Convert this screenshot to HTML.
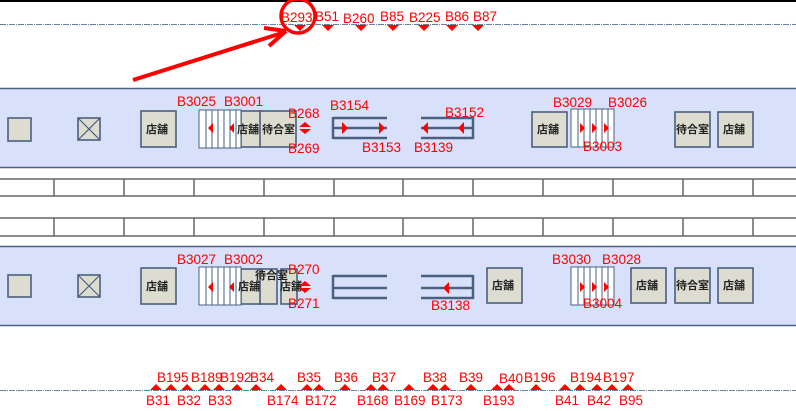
<!DOCTYPE html>
<html><head><meta charset="utf-8"><style>
html,body{margin:0;padding:0;background:#fff;width:796px;height:411px;overflow:hidden}
svg text{font-family:"Liberation Sans","Noto Sans CJK JP",sans-serif}
.r{fill:#ff0000;font-size:13.5px}
.j{fill:#222;font-size:11px;font-weight:bold}
.bx{fill:#dcdcd0;stroke:#4a6080;stroke-width:1.6}
</style></head><body>
<svg width="796" height="411" viewBox="0 0 796 411" xmlns="http://www.w3.org/2000/svg">
<rect x="0" y="0" width="796" height="2" fill="#000"/>
<line x1="0" y1="24.5" x2="796" y2="24.5" stroke="#6a80a0" stroke-width="1" stroke-dasharray="6,1,1,1"/>
<line x1="0" y1="390.5" x2="796" y2="390.5" stroke="#6a80a0" stroke-width="1" stroke-dasharray="6,1,1,1"/>
<rect x="0" y="88" width="796" height="80" fill="#d8e0fa"/>
<line x1="0" y1="88.5" x2="796" y2="88.5" stroke="#4a6080" stroke-width="1.5"/>
<line x1="0" y1="167.5" x2="796" y2="167.5" stroke="#4a6080" stroke-width="1.5"/>
<rect x="0" y="246" width="796" height="80" fill="#d8e0fa"/>
<line x1="0" y1="246.5" x2="796" y2="246.5" stroke="#4a6080" stroke-width="1.5"/>
<line x1="0" y1="325.5" x2="796" y2="325.5" stroke="#4a6080" stroke-width="1.5"/>
<g stroke="#666" stroke-width="1.5">
<line x1="0" y1="179" x2="796" y2="179"/><line x1="0" y1="196" x2="796" y2="196"/>
<line x1="0" y1="218" x2="796" y2="218"/><line x1="0" y1="236" x2="796" y2="236"/>
<path d="M54 179V196M124 179V196M194 179V196M264 179V196M334 179V196M403 179V196M473 179V196M543 179V196M613 179V196M683 179V196M753 179V196"/>
<path d="M54 218V236M124 218V236M194 218V236M264 218V236M334 218V236M403 218V236M473 218V236M543 218V236M613 218V236M683 218V236M753 218V236"/>
</g>
<rect class="bx" x="8" y="118" width="23" height="23"/>
<rect class="bx" x="78" y="118" width="22" height="22"/><path d="M78 118L100 140M100 118L78 140" stroke="#4a6080" stroke-width="1.2"/>
<rect class="bx" x="141" y="111" width="35" height="36"/><text class="j" x="146" y="133">店舗</text>
<rect class="bx" x="241" y="111" width="20" height="36"/>
<rect x="199" y="110" width="42" height="38" fill="#fff" stroke="#4a6080"/>
<path d="M206 110V148M212 110V148M218 110V148M224 110V148M230 110V148M236 110V148" stroke="#4a6080"/>
<text class="j" x="237" y="133">店舗</text>
<rect class="bx" x="260" y="111" width="36" height="36"/><text class="j" x="262" y="133">待合室</text>
<path d="M208 128l5-5v10zM229 128l5-5v10z" fill="#f00"/>
<path d="M305 122l6 5h-12zM305 134l6-5h-12z" fill="#f00"/>
<text class="r" x="288" y="118">B268</text><text class="r" x="288" y="153">B269</text>
<text class="r" x="177" y="106">B3025</text><text class="r" x="224" y="106">B3001</text>
<g stroke="#4a6080" stroke-width="2.5"><path d="M333 118H387M333 128H387M333 138H387M333 117V139"/><path d="M421 118H473M421 128H473M421 138H473M473 117V139"/></g>
<path d="M348 128l-6-6v12zM385 128l-6-6v12zM422 128l6-6v12zM458 128l6-6v12z" fill="#f00"/>
<text class="r" x="330" y="110">B3154</text><text class="r" x="362" y="152">B3153</text>
<text class="r" x="414" y="152">B3139</text><text class="r" x="445" y="117">B3152</text>
<rect class="bx" x="532" y="112" width="35" height="35"/><text class="j" x="537" y="133">店舗</text>
<rect x="571" y="109" width="43" height="38" fill="#fff" stroke="#4a6080"/>
<path d="M578 109V147M584 109V147M590 109V147M596 109V147M602 109V147M608 109V147" stroke="#4a6080"/>
<path d="M585 128l-5-5v10zM597 128l-5-5v10zM609 128l-5-5v10z" fill="#f00"/>
<text class="r" x="553" y="107">B3029</text><text class="r" x="608" y="107">B3026</text>
<text class="r" x="583" y="151">B3003</text>
<rect class="bx" x="675" y="112" width="35" height="35"/><text class="j" x="676" y="133">待合室</text>
<rect class="bx" x="718" y="112" width="35" height="35"/><text class="j" x="723" y="133">店舗</text>
<rect class="bx" x="8" y="275" width="23" height="22"/>
<rect class="bx" x="78" y="275" width="22" height="22"/><path d="M78 275L100 297M100 275L78 297" stroke="#4a6080" stroke-width="1.2"/>
<rect class="bx" x="141" y="268" width="35" height="36"/><text class="j" x="146" y="290">店舗</text>
<rect class="bx" x="241" y="269" width="20" height="35"/>
<rect class="bx" x="260" y="269" width="17" height="35"/>
<rect class="bx" x="281" y="269" width="16" height="35"/>
<rect x="199" y="267" width="42" height="38" fill="#fff" stroke="#4a6080"/>
<path d="M206 267V305M212 267V305M218 267V305M224 267V305M230 267V305M236 267V305" stroke="#4a6080"/>
<text class="j" x="238" y="290">店舗</text><text class="j" x="255" y="279">待合室</text><text class="j" x="280" y="290">店舗</text>
<path d="M208 287l5-5v10zM229 287l5-5v10z" fill="#f00"/>
<path d="M305 281l6 5h-12zM305 293l6-5h-12z" fill="#f00"/>
<text class="r" x="288" y="274">B270</text><text class="r" x="288" y="308">B271</text>
<text class="r" x="177" y="264">B3027</text><text class="r" x="224" y="264">B3002</text>
<g stroke="#4a6080" stroke-width="2.5"><path d="M333 276H387M333 288H387M333 298H387M333 275V299"/><path d="M421 276H473M421 288H473M421 298H473M473 275V299"/></g>
<path d="M443 288l6-6v12z" fill="#f00"/>
<text class="r" x="431" y="310">B3138</text>
<rect class="bx" x="487" y="268" width="35" height="35"/><text class="j" x="492" y="289">店舗</text>
<rect x="571" y="267" width="43" height="38" fill="#fff" stroke="#4a6080"/>
<path d="M578 267V305M584 267V305M590 267V305M596 267V305M602 267V305M608 267V305" stroke="#4a6080"/>
<path d="M585 287l-5-5v10zM597 287l-5-5v10zM609 287l-5-5v10z" fill="#f00"/>
<text class="r" x="552" y="264">B3030</text><text class="r" x="602" y="264">B3028</text>
<text class="r" x="583" y="308">B3004</text>
<rect class="bx" x="631" y="268" width="35" height="35"/><text class="j" x="636" y="289">店舗</text>
<rect class="bx" x="675" y="268" width="35" height="35"/><text class="j" x="676" y="289">待合室</text>
<rect class="bx" x="718" y="268" width="35" height="35"/><text class="j" x="723" y="289">店舗</text>
<text class="r" x="281" y="22">B293</text><text class="r" x="315" y="21">B51</text><text class="r" x="343" y="23">B260</text>
<text class="r" x="380" y="21">B85</text><text class="r" x="409" y="22">B225</text><text class="r" x="445" y="21">B86</text><text class="r" x="473" y="21">B87</text>
<path d="M294 25h12l-6 6zM322 25h12l-6 6zM355 25h12l-6 6zM387 25h12l-6 6zM418 25h12l-6 6zM446 25h12l-6 6zM472 25h12l-6 6z" fill="#f00"/>
<circle cx="298" cy="16" r="17" fill="none" stroke="#f00" stroke-width="3.5"/>
<line x1="133" y1="80" x2="282" y2="33" stroke="#f00" stroke-width="4"/>
<path d="M286 31L264 28M286 31L269 46" stroke="#f00" stroke-width="4" fill="none"/>
<path fill="#f00" d="M156 384l6 6h-12zM171 384l6 6h-12zM187 384l6 6h-12zM205 384l6 6h-12zM219 384l6 6h-12zM237 384l6 6h-12zM256 384l6 6h-12zM281 384l6 6h-12zM307 384l6 6h-12zM319 384l6 6h-12zM345 384l6 6h-12zM371 384l6 6h-12zM383 384l6 6h-12zM409 384l6 6h-12zM433 384l6 6h-12zM445 384l6 6h-12zM471 384l6 6h-12zM497 384l6 6h-12zM509 384l6 6h-12zM536 384l6 6h-12zM565 384l6 6h-12zM580 384l6 6h-12zM597 384l6 6h-12zM612 384l6 6h-12zM628 384l6 6h-12z"/>
<text class="r" x="157" y="382">B195</text><text class="r" x="191" y="382">B189</text><text class="r" x="220" y="382">B192</text><text class="r" x="250" y="382">B34</text>
<text class="r" x="297" y="382">B35</text><text class="r" x="334" y="382">B36</text><text class="r" x="372" y="382">B37</text><text class="r" x="423" y="382">B38</text>
<text class="r" x="459" y="382">B39</text><text class="r" x="499" y="383">B40</text><text class="r" x="524" y="382">B196</text><text class="r" x="570" y="382">B194</text><text class="r" x="603" y="382">B197</text>
<text class="r" x="146" y="405">B31</text><text class="r" x="177" y="405">B32</text><text class="r" x="208" y="405">B33</text><text class="r" x="267" y="405">B174</text>
<text class="r" x="305" y="405">B172</text><text class="r" x="357" y="405">B168</text><text class="r" x="394" y="405">B169</text><text class="r" x="431" y="405">B173</text>
<text class="r" x="483" y="405">B193</text><text class="r" x="555" y="405">B41</text><text class="r" x="587" y="405">B42</text><text class="r" x="619" y="405">B95</text>
</svg>
</body></html>
